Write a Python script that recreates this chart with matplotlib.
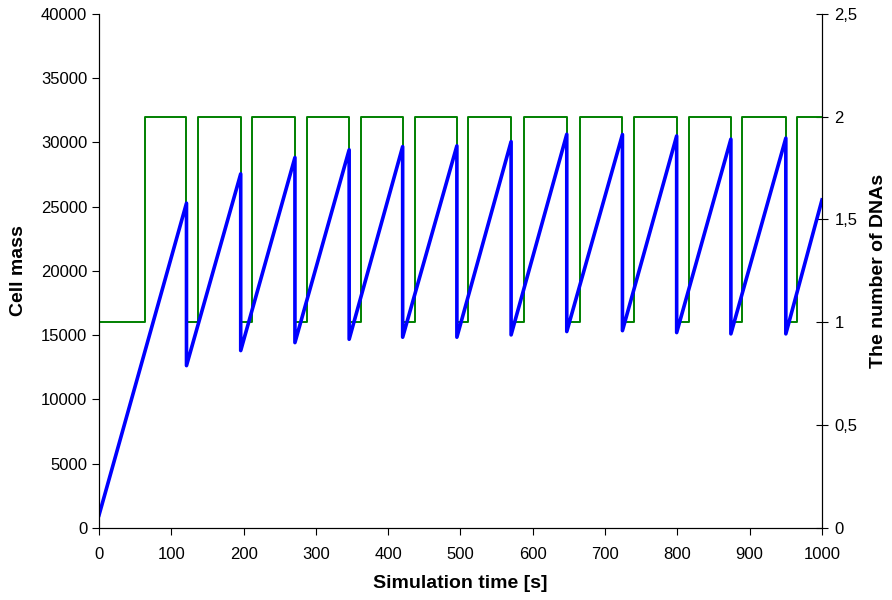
import matplotlib.pyplot as plt
from matplotlib.ticker import FuncFormatter

plt.rcParams['font.family'] = ['Liberation Sans', 'DejaVu Sans']

# cell mass: breakpoints (time, mass), vertical drops at division times
mass_t = [0, 121, 121, 196, 196, 271, 271, 346, 346, 420, 420, 495, 495,
          570, 570, 647, 647, 724, 724, 799, 799, 874, 874, 950, 950, 1000]
mass_v = [1000, 25270, 12630, 27550, 13800, 28820, 14420, 29420, 14680,
          29670, 14840, 29730, 14840, 30060, 15020, 30630, 15280, 30610,
          15350, 30500, 15200, 30250, 15100, 30330, 15100, 25520]

# number of DNAs: step changes
dna_rise = [64, 137, 212, 287, 362, 437, 511, 588, 665, 740, 816, 890, 966]
dna_drop = [121, 196, 271, 346, 420, 495, 570, 647, 724, 799, 874, 950]

dna_t = [0]
dna_v = [1]
for i, r in enumerate(dna_rise):
    dna_t += [r, r]
    dna_v += [1, 2]
    if i < len(dna_drop):
        dna_t += [dna_drop[i], dna_drop[i]]
        dna_v += [2, 1]
dna_t.append(1000)
dna_v.append(dna_v[-1])

fig = plt.figure(figsize=(8.92, 6), dpi=100)
ax = fig.add_axes([0.111, 0.12, 0.8105, 0.857])
ax2 = ax.twinx()

ax.plot(mass_t, mass_v, color='#0000ff', lw=2.6, zorder=2)
ax2.plot(dna_t, dna_v, color='#008000', lw=1.4, zorder=3)
ax.set_zorder(ax2.get_zorder() + 1)
ax.patch.set_visible(False)

ax.set_xlim(0, 1000)
ax.set_ylim(0, 40000)
ax2.set_ylim(0, 2.5)
ax.set_xticks(range(0, 1001, 100))
ax.set_yticks(range(0, 40001, 5000))
ax2.set_yticks([0, 0.5, 1, 1.5, 2, 2.5])
ax2.yaxis.set_major_formatter(FuncFormatter(lambda v, p: ('%g' % v).replace('.', ',')))

for a in (ax, ax2):
    a.spines['top'].set_visible(False)
ax.tick_params(axis='both', direction='out', length=5, labelsize=12)
ax.tick_params(axis='x', pad=9)
ax2.tick_params(axis='y', direction='inout', length=8, labelsize=12, pad=5)

ax.set_xlabel('Simulation time [s]', fontsize=14, fontweight='bold', labelpad=9)
ax.set_ylabel('Cell mass', fontsize=14, fontweight='bold', labelpad=10)
ax2.set_ylabel('The number of DNAs', fontsize=14, fontweight='bold', labelpad=9)

fig.savefig('out.png', dpi=100)
